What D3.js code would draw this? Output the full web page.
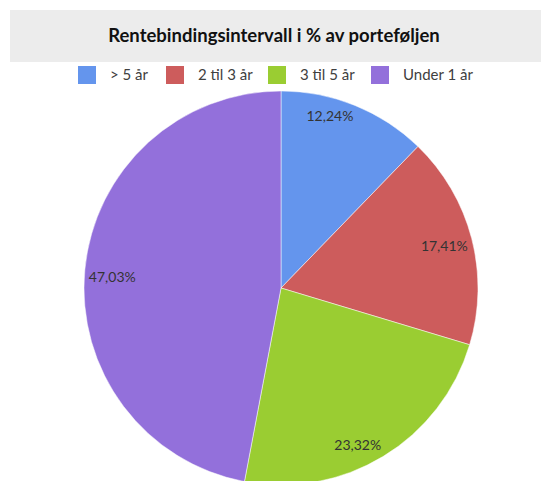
<!DOCTYPE html>
<html>
<head>
<meta charset="utf-8">
<script src="https://cdn.jsdelivr.net/npm/d3@7"></script>
<style>
  body { margin: 0; background: #fff; }
  text { font-family: Lato, "Open Sans", sans-serif; }
</style>
</head>
<body>
<div id="chart"></div>
<script>
// data
const categories = ['> 5 år', '2 til 3 år', '3 til 5 år', 'Under 1 år'];
const shares = [12.24, 17.41, 23.32, 47.03];
const colors = ['#6495ED', '#CD5C5C', '#9ACD32', '#9370DB'];
const title = 'Rentebindingsintervall i % av porteføljen';

let width = 541, height = 481;
let cx = 281, cy = 288, radius = 197;

let svg = d3.select('#chart')
            .append('svg')
            .attr('width', width)
            .attr('height', height);

// title band
svg.append('rect')
   .attr('x', 10).attr('y', 10)
   .attr('width', width - 10).attr('height', 52)
   .attr('fill', '#ECECEC');

svg.append('text')
   .attr('x', 274)
   .attr('y', 42)
   .style('text-anchor', 'middle')
   .style('font-weight', 'bold')
   .style('font-size', '18.5px')
   .attr('fill', '#111')
   .text(title);

// legend
const legendX = [78, 166, 268, 371];
const legend = svg.selectAll('.legend')
    .data(categories)
    .enter()
    .append('g')
    .attr('class', 'legend')
    .attr('transform', (d, i) => `translate(${legendX[i]}, 66)`);

legend.append('rect')
    .attr('width', 18)
    .attr('height', 18)
    .attr('fill', (d, i) => colors[i]);

legend.append('text')
    .attr('x', 32)
    .attr('y', 14)
    .style('font-size', '15px')
    .attr('fill', '#404040')
    .text(d => d);

// pie
let pie = d3.pie().sort(null).value(d => d)(shares);
let arc = d3.arc().innerRadius(0).outerRadius(radius);

let g = svg.append('g').attr('transform', `translate(${cx}, ${cy})`);

g.selectAll('path')
 .data(pie)
 .enter()
 .append('path')
 .attr('d', arc)
 .attr('fill', (d, i) => colors[i])
 .attr('stroke', '#fff')
 .attr('stroke-width', 0.5);

// labels at "inside end": outer corner of label box sits on the mid angle
let labelR = radius - 4;
g.selectAll('.lbl')
 .data(pie)
 .enter()
 .append('text')
 .attr('class', 'lbl')
 .each(function(d) {
    let a = (d.startAngle + d.endAngle) / 2;
    let px = labelR * Math.sin(a), py = -labelR * Math.cos(a);
    d3.select(this)
      .attr('x', px)
      .attr('y', Math.cos(a) > 0 ? py + 12 : py - 3)
      .style('text-anchor', Math.sin(a) > 0 ? 'end' : 'start');
 })
 .style('font-size', '14px')
 .attr('fill', '#333')
 .text(d => d.data.toFixed(2).replace('.', ',') + '%');
</script>
</body>
</html>
